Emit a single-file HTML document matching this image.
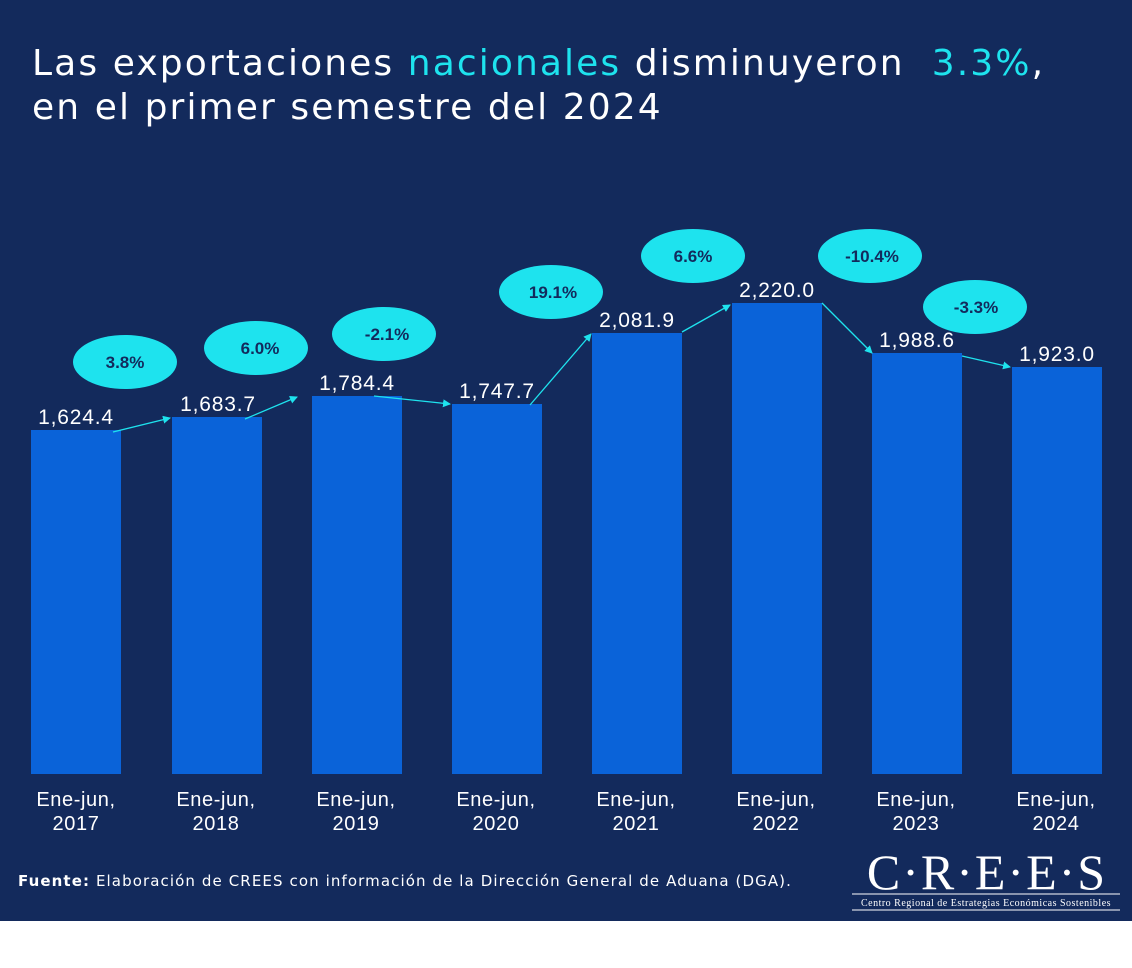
<!DOCTYPE html>
<html><head><meta charset="utf-8"><style>
body{margin:0;width:1132px;height:968px;background:#fff;font-family:"Liberation Sans",sans-serif;overflow:hidden}
#bg{position:absolute;left:0;top:0;width:1132px;height:921px;background:#132a5c}
.t{position:absolute;left:32px;color:#fff;font-size:36px;white-space:nowrap;font-family:"DejaVu Sans",sans-serif;letter-spacing:2.1px}
.c{color:#1ee3ee}
</style></head><body>
<div id="bg"></div>
<div class="t" style="top:43px">Las exportaciones <span class="c">nacionales</span> disminuyeron &nbsp;<span class="c">3.3%</span>,</div>
<div class="t" style="top:87px">en el primer semestre del 2024</div>
<svg width="1132" height="921" style="position:absolute;left:0;top:0" font-family="Liberation Sans, sans-serif">
<defs><marker id="a" markerWidth="8" markerHeight="8" refX="7" refY="4" orient="auto" markerUnits="userSpaceOnUse"><path d="M0,0L8,4L0,8z" fill="#1ee3ee"/></marker></defs>
<g fill="#0a63d9">
<rect x="31" y="430" width="90" height="344"/><rect x="172" y="417" width="90" height="357"/>
<rect x="312" y="396" width="90" height="378"/><rect x="452" y="404" width="90" height="370"/>
<rect x="592" y="333" width="90" height="441"/><rect x="732" y="303" width="90" height="471"/>
<rect x="872" y="353" width="90" height="421"/><rect x="1012" y="367" width="90" height="407"/>
</g>
<g stroke="#1ee3ee" stroke-width="1.3" fill="none" marker-end="url(#a)">
<path d="M113,432L170,418"/><path d="M245,419L297,397"/><path d="M374,396L450,404"/>
<path d="M530,405L591,334"/><path d="M682,332L730,305"/><path d="M822,303L872,353"/><path d="M962,356L1010,367"/>
</g>
<g fill="#fff" font-size="21" text-anchor="middle" letter-spacing="0.8">
<text x="76" y="424">1,624.4</text><text x="218" y="411">1,683.7</text><text x="357" y="390">1,784.4</text>
<text x="497" y="398">1,747.7</text><text x="637" y="327">2,081.9</text><text x="777" y="297">2,220.0</text>
<text x="917" y="347">1,988.6</text><text x="1057" y="361">1,923.0</text>
</g>
<g fill="#1ee3ee">
<ellipse cx="125" cy="362" rx="52" ry="27"/><ellipse cx="256" cy="348" rx="52" ry="27"/>
<ellipse cx="384" cy="334" rx="52" ry="27"/><ellipse cx="551" cy="292" rx="52" ry="27"/>
<ellipse cx="693" cy="256" rx="52" ry="27"/><ellipse cx="870" cy="256" rx="52" ry="27"/>
<ellipse cx="975" cy="307" rx="52" ry="27"/>
</g>
<g fill="#132a5c" font-size="17" font-weight="bold" text-anchor="middle">
<text x="125" y="368">3.8%</text><text x="260" y="354">6.0%</text><text x="387" y="340">-2.1%</text>
<text x="553" y="298">19.1%</text><text x="693" y="262">6.6%</text><text x="872" y="262">-10.4%</text><text x="976" y="313">-3.3%</text>
</g>
<g fill="#fff" font-size="20" text-anchor="middle" letter-spacing="0.6">
<text x="76" y="806">Ene-jun,</text><text x="76" y="830">2017</text>
<text x="216" y="806">Ene-jun,</text><text x="216" y="830">2018</text>
<text x="356" y="806">Ene-jun,</text><text x="356" y="830">2019</text>
<text x="496" y="806">Ene-jun,</text><text x="496" y="830">2020</text>
<text x="636" y="806">Ene-jun,</text><text x="636" y="830">2021</text>
<text x="776" y="806">Ene-jun,</text><text x="776" y="830">2022</text>
<text x="916" y="806">Ene-jun,</text><text x="916" y="830">2023</text>
<text x="1056" y="806">Ene-jun,</text><text x="1056" y="830">2024</text>
</g>
<text x="18" y="886" fill="#fff" font-size="15" font-family="DejaVu Sans, sans-serif" letter-spacing="1.1"><tspan font-weight="bold">Fuente:</tspan> Elaboración de CREES con información de la Dirección General de Aduana (DGA).</text>
<text x="987" y="889" fill="#fff" font-size="50" font-family="Liberation Serif, serif" text-anchor="middle" letter-spacing="2">C·R·E·E·S</text>
<line x1="852" y1="894" x2="1120" y2="894" stroke="#fff" stroke-width="1"/>
<line x1="852" y1="910" x2="1120" y2="910" stroke="#fff" stroke-width="1"/>
<text x="986" y="906" fill="#fff" font-size="10" font-family="Liberation Serif, serif" text-anchor="middle" letter-spacing="0.5">Centro Regional de Estrategias Económicas Sostenibles</text>
</svg>
</body></html>
